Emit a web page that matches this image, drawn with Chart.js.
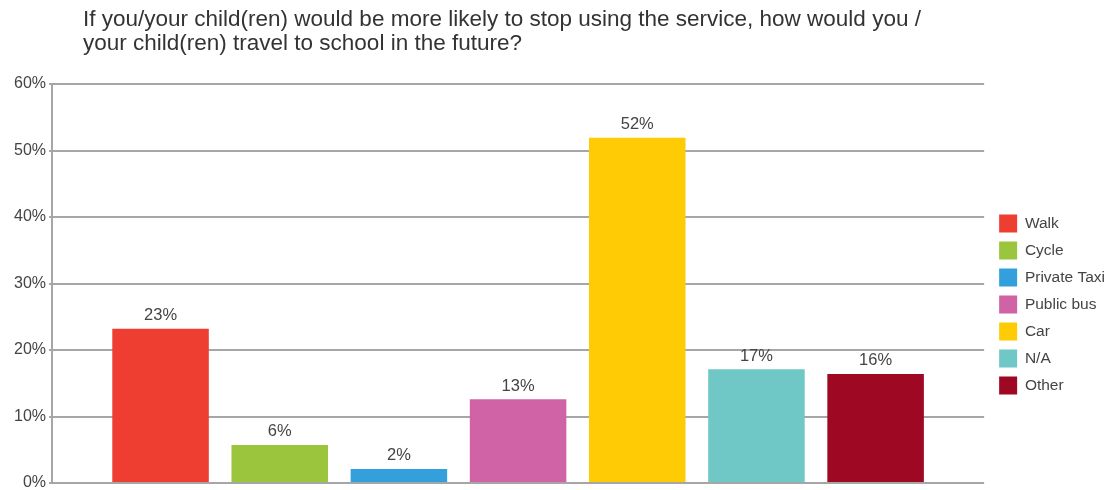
<!DOCTYPE html>
<html>
<head>
<meta charset="utf-8">
<script src="https://cdn.jsdelivr.net/npm/chart.js@4"></script>
<style>
  html, body { margin: 0; padding: 0; background: #ffffff; }
  #wrap { width: 1109px; height: 490px; position: relative; }
</style>
</head>
<body>
<div id="wrap"><canvas id="canvas"></canvas></div>
<script>
"use strict";

const title_lines = [
  "If you/your child(ren) would be more likely to stop using the service, how would you /",
  "your child(ren) travel to school in the future?",
];
const mode_labels = ["Walk", "Cycle", "Private Taxi", "Public bus", "Car", "N/A", "Other"];
const mode_values = [23.2, 5.7, 2.1, 12.6, 51.9, 17.1, 16.4];
const mode_value_labels = ["23%", "6%", "2%", "13%", "52%", "17%", "16%"];
const mode_colors = ["#ee3e32", "#9bc53d", "#34a0db", "#d063a5", "#fecb05", "#6fc8c6", "#9e0823"];
const y_ticks = [0, 10, 20, 30, 40, 50, 60];

const FONT = '"Liberation Sans", Arial, sans-serif';
const ctx = document.getElementById("canvas").getContext("2d");

// title drawn by hand so it can sit left of the chart like the original
const leftTitle = {
  id: "leftTitle",
  afterDraw(chart) {
    const c = chart.ctx;
    c.save();
    c.font = "22.5px " + FONT;
    c.fillStyle = "#333333";
    c.textAlign = "left";
    c.textBaseline = "alphabetic";
    title_lines.forEach((line, i) => {
      c.fillText(line, 83, 26 + i * 24);
    });
    c.restore();
  },
};

// value labels above each bar
const barValues = {
  id: "barValues",
  afterDatasetsDraw(chart) {
    const c = chart.ctx;
    c.save();
    c.font = "16.5px " + FONT;
    c.fillStyle = "#444444";
    c.textAlign = "center";
    c.textBaseline = "bottom";
    chart.data.datasets.forEach((ds, i) => {
      const bar = chart.getDatasetMeta(i).data[0];
      if (!bar) return;
      c.fillText(mode_value_labels[i], bar.x, bar.y - 5);
    });
    c.restore();
  },
};

// push the legend items a little away from the plot (labels.padding also sets row spacing)
const legendShift = {
  id: "legendShift",
  beforeLayout(chart) {
    const lg = chart.legend;
    if (!lg || lg._shiftPatched) return;
    const draw = lg.draw;
    lg.draw = function () {
      this.ctx.save();
      this.ctx.translate(6, 0);
      draw.call(this);
      this.ctx.restore();
    };
    lg._shiftPatched = true;
  },
};

const datasets = mode_labels.map((label, i) => ({
  label: label,
  data: [mode_values[i]],
  backgroundColor: mode_colors[i],
  borderWidth: 0,
  categoryPercentage: 0.895,
  barPercentage: 0.81,
}));

const chart = new Chart(ctx, {
  type: "bar",
  data: {
    labels: [""],
    datasets: datasets,
  },
  plugins: [leftTitle, barValues, legendShift],
  options: {
    responsive: true,
    maintainAspectRatio: false,
    animation: false,
    layout: {
      padding: { top: 84, right: 0, left: 11, bottom: 0 },
    },
    plugins: {
      title: { display: false },
      tooltip: { enabled: false },
      legend: {
        position: "right",
        align: "center",
        title: {
          display: true,
          text: "",
          font: { size: 10, lineHeight: 1 },
          padding: { top: 0, bottom: 25 },
        },
        labels: {
          boxWidth: 18,
          boxHeight: 18,
          padding: 9,
          color: "#444444",
          font: { family: FONT, size: 15.5 },
        },
      },
    },
    scales: {
      x: {
        display: false,
      },
      y: {
        min: 0,
        max: 60,
        afterBuildTicks: (axis) => {
          axis.ticks = y_ticks.map((v) => ({ value: v }));
        },
        ticks: {
          color: "#444444",
          padding: 3,
          font: { family: FONT, size: 16, lineHeight: 0.5 },
          callback: (v) => v + "%",
        },
        grid: {
          color: "#a6a6a6",
          lineWidth: 2,
          tickLength: 3,
        },
        border: {
          display: true,
          color: "#a6a6a6",
          width: 2,
        },
      },
    },
  },
});
</script>
</body>
</html>
